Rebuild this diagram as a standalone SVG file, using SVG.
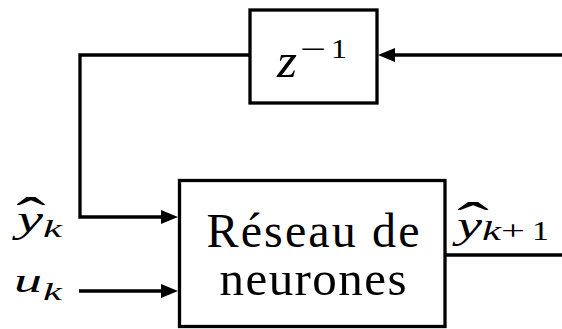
<svg xmlns="http://www.w3.org/2000/svg" width="562" height="329" viewBox="0 0 562 329">
<style>
.box{fill:#fff;stroke:#000;stroke-width:3.3}
.wire{fill:none;stroke:#000;stroke-width:3.3}
text{font-family:'Liberation Serif','Times New Roman','DejaVu Serif',serif;fill:#000}
.mi{font-style:italic}
</style>
<defs>
<marker id="arr" markerUnits="userSpaceOnUse" markerWidth="18" markerHeight="16" refX="7" refY="8" orient="auto" viewBox="0 0 18 16">
<path d="M0,1 L17,8 L0,15 z" fill="#000"/>
</marker>
</defs>
<g id="connectors">
<path class="wire" d="M562,55 L388,55" marker-end="url(#arr)"/>
<path class="wire" d="M250,55 L80,55 L80,217 L168,217" marker-end="url(#arr)"/>
<path class="wire" d="M79,291 L168,291" marker-end="url(#arr)"/>
<path class="wire" d="M445,255 L562,255"/>
</g>
<g id="delay">
<rect class="box" x="250" y="10" width="127" height="93"/>
<text class="mi" x="277" y="77" font-size="48" textLength="20" lengthAdjust="spacingAndGlyphs">z</text>
<text x="300" y="58" font-size="27" textLength="26" lengthAdjust="spacingAndGlyphs">−</text>
<text x="331" y="58" font-size="27" textLength="16" lengthAdjust="spacingAndGlyphs">1</text>
</g>
<g id="network">
<rect class="box" x="179.5" y="180.5" width="265.5" height="146"/>
<text x="313" y="247" font-size="48" text-anchor="middle" textLength="213">Réseau de</text>
<text x="313" y="295" font-size="49" text-anchor="middle" textLength="187">neurones</text>
</g>
<g id="label-yk">
<text transform="translate(31,234.5) scale(2.2,1.35)" font-size="40" text-anchor="middle">ˆ</text>
<text class="mi"><tspan x="17" y="232" font-size="37" textLength="26" lengthAdjust="spacingAndGlyphs">y</tspan><tspan x="43" y="237" font-size="25" textLength="19" lengthAdjust="spacingAndGlyphs">k</tspan></text>
</g>
<g id="label-uk">
<text class="mi"><tspan x="14" y="292" font-size="33" textLength="28" lengthAdjust="spacingAndGlyphs">u</tspan><tspan x="43" y="300" font-size="25" textLength="19" lengthAdjust="spacingAndGlyphs">k</tspan></text>
</g>
<g id="label-yk1">
<text transform="translate(473,240) scale(2.4,1.35)" font-size="40" text-anchor="middle">ˆ</text>
<text class="mi"><tspan x="457" y="238" font-size="37" textLength="25" lengthAdjust="spacingAndGlyphs">y</tspan><tspan x="482" y="240" font-size="27" textLength="19" lengthAdjust="spacingAndGlyphs">k</tspan><tspan x="501" y="240" font-size="27" font-style="normal" textLength="24" lengthAdjust="spacingAndGlyphs">+</tspan><tspan x="532" y="240" font-size="27" font-style="normal" textLength="17" lengthAdjust="spacingAndGlyphs">1</tspan></text>
</g>
</svg>
